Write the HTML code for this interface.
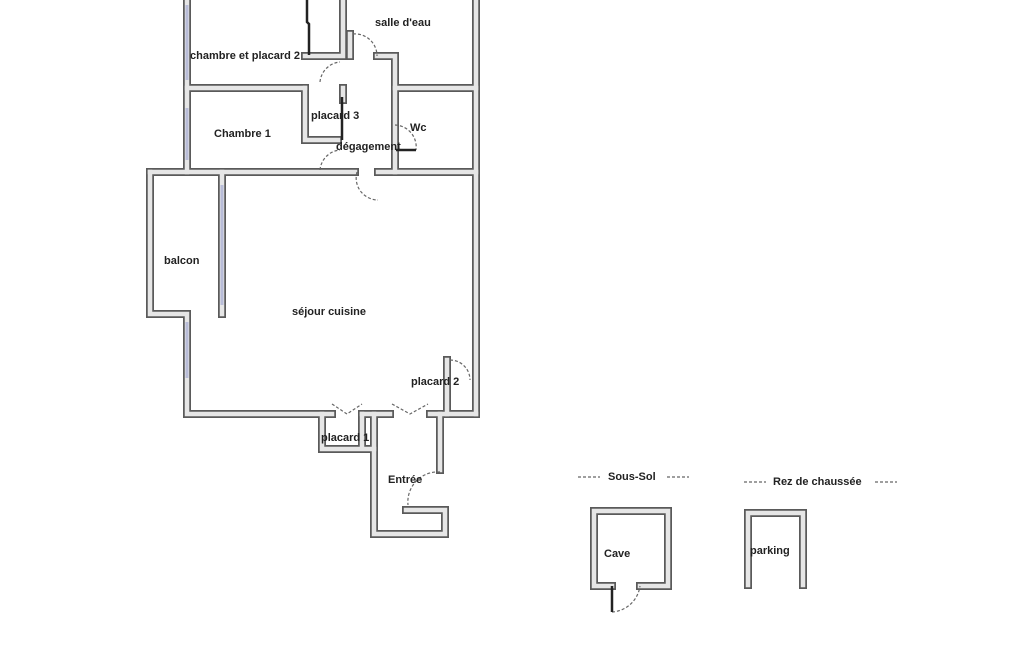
<!DOCTYPE html>
<html><head><meta charset="utf-8"><style>
html,body{margin:0;padding:0;background:#fff;width:1025px;height:650px;overflow:hidden}
text{font-family:"Liberation Sans",sans-serif;font-size:11px;font-weight:bold;fill:#222}
.w{fill:none;stroke:#5a5a5a;stroke-width:8;stroke-linecap:square}
.wi{fill:none;stroke:#e6e6e6;stroke-width:4.5;stroke-linecap:square}
.d{fill:none;stroke:#666;stroke-width:1.2;stroke-dasharray:3 2}
.k{fill:none;stroke:#222;stroke-width:2.5}
.win{stroke:#b8bcd8;stroke-width:3}
</style></head><body>
<svg width="1025" height="650" xmlns="http://www.w3.org/2000/svg">
<defs>
<g id="walls">
<path d="M187 0V172"/>
<path d="M476 0V414"/>
<path d="M187 88H305 M395 88H476"/>
<path d="M305 56H343 M343 0V56"/>
<path d="M350 34V56 M377 56H395V172"/>
<path d="M305 88V140H338 M343 88V100"/>
<path d="M150 172H355 M378 172H476"/>
<path d="M150 172V314H187 M187 314V414H332 M362 414H390 M430 414H476"/>
<path d="M222 172V314"/>
<path d="M322 414V449H374 M362 414V449"/>
<path d="M374 414V534H445V510H406"/>
<path d="M440 414V470"/>
<path d="M447 360V414"/>
<path d="M594 511V586H612 M640 586H668V511H594"/>
<path d="M748 585V513H803V585"/>
</g>
</defs>
<use href="#walls" class="w"/>
<use href="#walls" class="wi"/>
<line x1="187" y1="5" x2="187" y2="80" class="win"/>
<line x1="187" y1="108" x2="187" y2="160" class="win"/>
<line x1="222" y1="185" x2="222" y2="305" class="win"/>
<line x1="187" y1="322" x2="187" y2="378" class="win"/>
<path class="k" d="M307 0V22L309 24V55"/>
<path class="k" d="M342 97V140"/>
<path class="d" d="M353 34A22 22 0 0 1 377 56"/>
<path class="d" d="M320 82A22 22 0 0 1 340 62"/>
<path class="d" d="M395 125A22 22 0 0 1 416 150"/>
<path class="k" d="M396 150H416" stroke-width="1.5"/>
<path class="d" d="M320 170A22 22 0 0 1 340 150"/>
<path class="d" d="M357 172A22 22 0 0 0 378 200"/>
<path class="d" d="M450 360A20 20 0 0 1 470 380"/>
<path class="d" d="M332 404L347 414L362 404"/>
<path class="d" d="M392 404L410 414L428 404"/>
<path class="d" d="M440 472A30 30 0 0 0 408 505"/>
<path class="d" d="M612 612A30 30 0 0 0 640 586"/>
<path class="k" d="M612 586V612"/>
<text x="375" y="26">salle d'eau</text>
<text x="190" y="59">chambre et placard 2</text>
<text x="214" y="137">Chambre 1</text>
<text x="311" y="119">placard 3</text>
<text x="410" y="131">Wc</text>
<text x="336" y="150">dégagement</text>
<text x="164" y="264">balcon</text>
<text x="292" y="315">séjour cuisine</text>
<text x="411" y="385">placard 2</text>
<text x="321" y="441">placard 1</text>
<text x="388" y="483">Entrée</text>
<text x="608" y="480">Sous-Sol</text>
<text x="773" y="485">Rez de chaussée</text>
<text x="604" y="557">Cave</text>
<text x="750" y="554">parking</text>
<path class="d" d="M578 477H600 M667 477H689 M744 482H766 M875 482H897" stroke-dasharray="2 1.5"/>
</svg>
</body></html>
